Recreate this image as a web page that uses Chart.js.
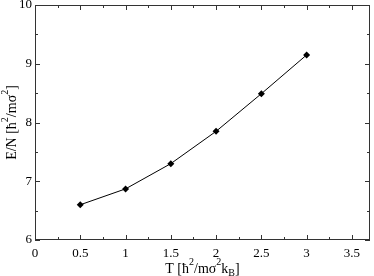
<!DOCTYPE html>
<html>
<head>
<meta charset="utf-8">
<script src="https://cdn.jsdelivr.net/npm/chart.js@4"></script>
<style>
  html, body { margin: 0; padding: 0; background: #fff; }
  #wrap { width: 374px; height: 276px; }
</style>
</head>
<body>
<div id="wrap"><canvas id="energyChart"></canvas></div>
<script>
// data
const temps = [0.5, 1.0, 1.5, 2.0, 2.5, 3.0];
const energies = [6.60, 6.87, 7.30, 7.85, 8.49, 9.15];

const xTicks = [0, 0.5, 1, 1.5, 2, 2.5, 3, 3.5];
const xMinor = [0.25, 0.75, 1.25, 1.75, 2.25, 2.75, 3.25];
const yTicks = [6, 7, 8, 9, 10];
const yMinor = [6.5, 7.5, 8.5, 9.5];

const FONT = "'Liberation Serif', 'Times New Roman', serif";

// draws text with superscript / subscript pieces, centred on (x, y)
function richText(ctx, parts, x, y, size) {
  const small = Math.round(size * 0.7);
  let total = 0;
  parts.forEach(p => {
    ctx.font = (p.s ? small : size) + "px " + FONT;
    p.w = ctx.measureText(p.t).width;
    total += p.w;
  });
  let cx = x - total / 2;
  ctx.textBaseline = "middle";
  ctx.textAlign = "left";
  parts.forEach(p => {
    ctx.font = (p.s ? small : size) + "px " + FONT;
    let dy = 0;
    if (p.s === "sup") dy = -size * 0.45;
    if (p.s === "sub") dy = size * 0.3;
    ctx.fillText(p.t, cx, y + dy);
    cx += p.w;
  });
}

const framePlugin = {
  id: "frame",
  afterDraw(chart) {
    const { ctx, chartArea: a, scales } = chart;
    ctx.save();
    ctx.strokeStyle = "#333";
    ctx.lineWidth = 1;
    ctx.strokeRect(a.left + 0.5, a.top + 0.5, a.right - a.left - 1, a.bottom - a.top - 1);

    // inward ticks on all four sides
    const tick = (vals, len, isX) => {
      vals.forEach(v => {
        ctx.beginPath();
        if (isX) {
          const px = Math.round(scales.x.getPixelForValue(v)) + 0.5;
          ctx.moveTo(px, a.bottom); ctx.lineTo(px, a.bottom - len);
          ctx.moveTo(px, a.top); ctx.lineTo(px, a.top + len);
        } else {
          const py = Math.round(scales.y.getPixelForValue(v)) + 0.5;
          ctx.moveTo(a.left, py); ctx.lineTo(a.left + len, py);
          ctx.moveTo(a.right, py); ctx.lineTo(a.right - len, py);
        }
        ctx.stroke();
      });
    };
    tick(xTicks, 5, true);
    tick(xMinor, 3, true);
    tick(yTicks, 5, false);
    tick(yMinor, 3, false);

    // axis titles
    ctx.fillStyle = "#000";
    richText(ctx, [
      { t: "T [ħ" }, { t: "2", s: "sup" }, { t: "/mσ" }, { t: "2", s: "sup" },
      { t: "k" }, { t: "B", s: "sub" }, { t: "]" }
    ], (a.left + a.right) / 2, 269, 14);

    ctx.translate(12, (a.top + a.bottom) / 2);
    ctx.rotate(-Math.PI / 2);
    richText(ctx, [
      { t: "E/N [ħ" }, { t: "2", s: "sup" }, { t: "/mσ" }, { t: "2", s: "sup" }, { t: "]" }
    ], 0, 0, 14);
    ctx.restore();
  }
};

new Chart(document.getElementById("energyChart"), {
  type: "scatter",
  data: {
    datasets: [{
      data: temps.map((t, i) => ({ x: t, y: energies[i] })),
      showLine: true,
      borderColor: "#000",
      borderWidth: 1,
      backgroundColor: "#000",
      pointStyle: "rectRot",
      pointRadius: 3.5,
      pointBorderWidth: 0
    }]
  },
  options: {
    responsive: true,
    maintainAspectRatio: false,
    animation: false,
    layout: { padding: 0 },
    plugins: { legend: { display: false }, tooltip: { enabled: false } },
    scales: {
      x: {
        type: "linear",
        min: 0,
        max: 3.7,
        afterBuildTicks: s => { s.ticks = xTicks.map(v => ({ value: v })); },
        afterFit: s => { s.height = 36; s.paddingLeft = 0; s.paddingRight = 1; },
        grid: { display: false, drawTicks: false },
        border: { display: false },
        ticks: {
          padding: 6,
          color: "#000",
          font: { family: FONT, size: 13 },
          callback: v => String(v)
        }
      },
      y: {
        type: "linear",
        min: 6,
        max: 10,
        afterBuildTicks: s => { s.ticks = yTicks.map(v => ({ value: v })); },
        afterFit: s => { s.width = 35; s.paddingTop = 5; s.paddingBottom = 0; },
        grid: { display: false, drawTicks: false },
        border: { display: false },
        ticks: {
          padding: 3,
          color: "#000",
          font: { family: FONT, size: 13 },
          callback: v => String(v)
        }
      }
    }
  },
  plugins: [framePlugin]
});
</script>
</body>
</html>
